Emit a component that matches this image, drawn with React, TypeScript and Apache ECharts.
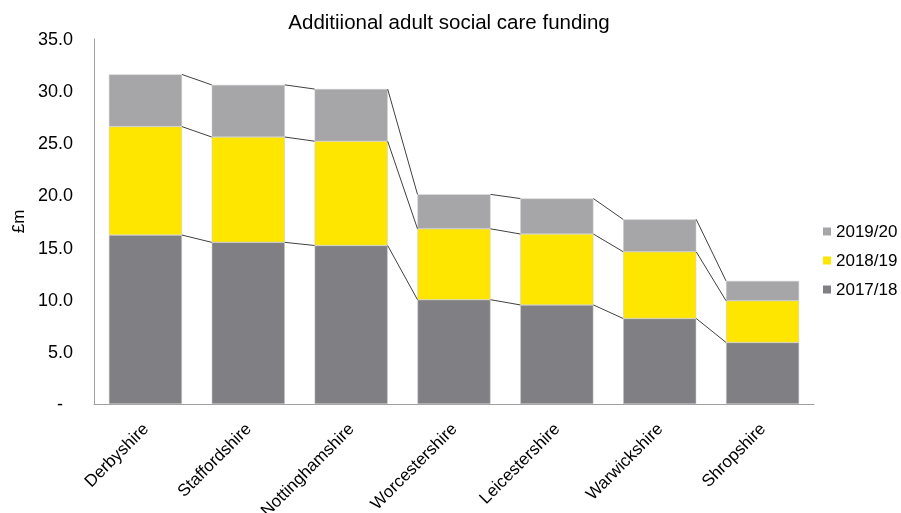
import React, { useEffect, useRef } from "react";
import * as echarts from "echarts";

const categories = ["Derbyshire", "Staffordshire", "Nottinghamshire", "Worcestershire", "Leicestershire", "Warwickshire", "Shropshire"];
const s2017 = [16.2, 15.5, 15.2, 10.0, 9.5, 8.2, 5.9];
const s2018 = [10.4, 10.1, 10.0, 6.8, 6.8, 6.4, 4.0];
const s2019 = [5.0, 5.0, 5.0, 3.3, 3.4, 3.1, 1.9];
const seriesNames = ["2017/18", "2018/19", "2019/20"];
const yTicks = [0, 5, 10, 15, 20, 25, 30, 35];

const colors = ["#808084", "#FFE600", "#A6A6A8"];
const FONT = "Liberation Sans, Arial, sans-serif";
const BAR_RATIO = 0.71;

export default function App() {
  const ref = useRef<HTMLDivElement>(null);
  useEffect(() => {
    if (!ref.current) return;
    const chart = echarts.init(ref.current, undefined, { renderer: "svg" });
    const levels = [
      s2017,
      s2017.map((v, i) => v + s2018[i]),
      s2017.map((v, i) => v + s2018[i] + s2019[i]),
    ];
    const values = [s2017, s2018, s2019];
    chart.setOption({
      animation: false,
      title: {
        text: "Additiional adult social care funding",
        left: 444,
        textAlign: "center",
        top: 6,
        textStyle: { fontFamily: FONT, fontSize: 20.5, fontWeight: "normal", color: "#000" },
      },
      grid: { left: 94, right: 87, top: 39, bottom: 109, containLabel: false, outerBoundsMode: "none" },
      legend: {
        orient: "vertical",
        left: 823,
        top: 223,
        padding: 0,
        itemWidth: 8,
        itemHeight: 8,
        itemGap: 12,
        icon: "rect",
        itemStyle: { borderWidth: 0 },
        data: ["2019/20", "2018/19", "2017/18"],
        textStyle: { fontFamily: FONT, fontSize: 17, color: "#000" },
      },
      xAxis: {
        type: "category",
        data: categories,
        axisLine: { lineStyle: { color: "#A0A0A0" } },
        axisTick: { show: false },
        axisLabel: { rotate: 45, fontFamily: FONT, fontSize: 17, color: "#000", margin: 22, interval: 0 },
      },
      yAxis: {
        type: "value",
        min: 0,
        max: 35,
        interval: 5,
        name: "£m",
        nameLocation: "middle",
        nameGap: 66,
        nameTextStyle: { fontFamily: FONT, fontSize: 17, color: "#000" },
        splitLine: { show: false },
        axisLine: { show: true, lineStyle: { color: "#A0A0A0" } },
        axisTick: { show: false },
        axisLabel: {
          fontFamily: FONT,
          fontSize: 18,
          color: "#000",
          margin: 21,
          formatter: (v: number) => (yTicks.includes(v) ? (v === 0 ? "{d|-}" : v.toFixed(1)) : ""),
          rich: { d: { fontFamily: FONT, fontSize: 18, color: "#000", padding: [0, 10, 0, 0] } },
        },
      },
      series: [
        ...seriesNames.map((name, k) => ({
          name,
          type: "bar",
          stack: "total",
          barWidth: BAR_RATIO * 100 + "%",
          data: values[k],
          itemStyle: { color: colors[k], borderColor: "#C8C8C8", borderWidth: 0.5 },
        })),
        {
          type: "custom",
          name: "connectors",
          z: 5,
          silent: true,
          encode: { x: 0, y: 1 },
          data: categories.map((_, i) => [i, 0]),
          renderItem: (params: any, api: any) => {
            const i = api.value(0);
            if (i >= categories.length - 1) return null;
            const band = api.size([1, 0])[0];
            const half = (band * BAR_RATIO) / 2;
            const children = levels.map((lv) => {
              const p1 = api.coord([i, lv[i]]);
              const p2 = api.coord([i + 1, lv[i + 1]]);
              return {
                type: "line",
                shape: { x1: p1[0] + half, y1: p1[1], x2: p2[0] - half, y2: p2[1] },
                style: { stroke: "#404040", lineWidth: 1 },
              };
            });
            return { type: "group", children };
          },
        },
      ],
    });
    return () => chart.dispose();
  }, []);
  return <div ref={ref} style={{ position: "fixed", left: 0, top: 0, width: 901, height: 513 }} />;
}
